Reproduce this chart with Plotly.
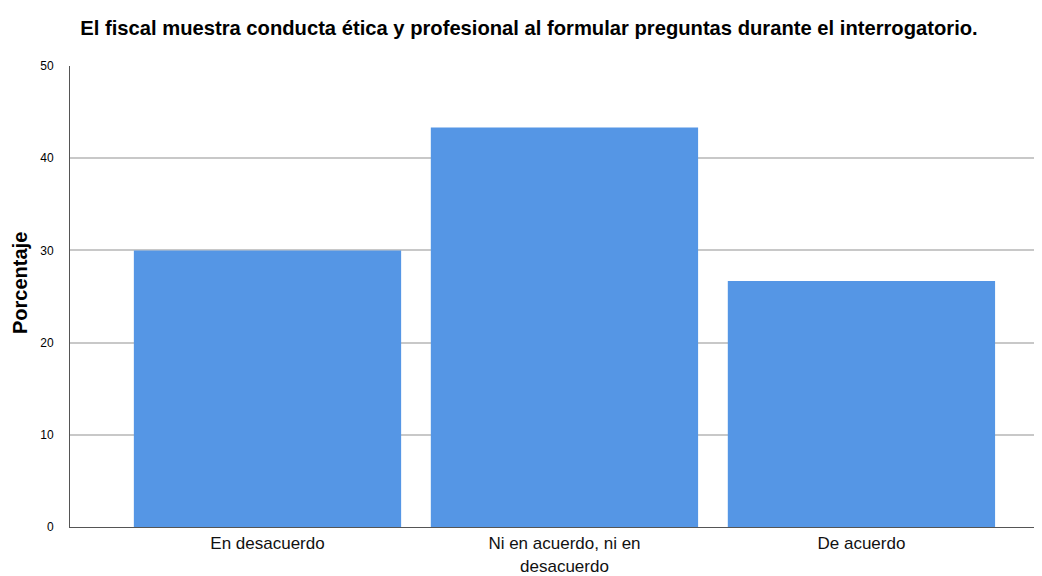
import plotly.graph_objects as go

categories = ["En desacuerdo", "Ni en acuerdo, ni en<br>desacuerdo", "De acuerdo"]
percentages = [30.0, 43.33, 26.67]
y_ticks = [0, 10, 20, 30, 40, 50]
title_text = "El fiscal muestra conducta ética y profesional al formular preguntas durante el interrogatorio."
y_title = "Porcentaje"

# page has an 8px body margin; figure is sized to fill the rest of the window
W, H = 1034, 568

fig = go.Figure()
fig.add_trace(go.Bar(
    x=list(range(len(categories))),
    y=percentages,
    width=0.9,
    marker=dict(color="#5596E5", line=dict(width=0)),
    hoverinfo="y",
))

fig.update_layout(
    width=W, height=H,
    paper_bgcolor="white", plot_bgcolor="white",
    margin=dict(l=62, r=0, t=58, b=49, autoexpand=False),
    font=dict(family="Liberation Sans, Arial, sans-serif", color="black"),
    title=dict(text="<b>" + title_text + "</b>", x=521 / W, xanchor="center",
               y=1 - 20 / H, yanchor="middle", yref="container",
               font=dict(size=20.2, color="black")),
    showlegend=False,
    bargap=0.1,
    annotations=[dict(
        text="<b>" + y_title + "</b>", textangle=-90,
        xref="paper", yref="paper", x=(20 - 70) / 972, y=(527 - 283) / 461,
        xanchor="center", yanchor="middle", showarrow=False,
        font=dict(size=20, color="black"),
    )],
)
fig.update_xaxes(
    range=[-0.665, 2.608], automargin=False,
    tickmode="array", tickvals=list(range(len(categories))), ticktext=categories,
    tickfont=dict(size=17, color="#111111"), ticklabelstandoff=1,
    showgrid=False, showline=True, linecolor="#555555", linewidth=1,
    ticks="", zeroline=False,
)
fig.update_yaxes(
    range=[0, 50], tickmode="array", tickvals=y_ticks, automargin=False,
    tickfont=dict(size=12, color="black"), ticklabelstandoff=13,
    showgrid=True, gridcolor="#C8C8C8", gridwidth=1.5,
    showline=True, linecolor="#555555", linewidth=1,
    ticks="", zeroline=False,
)

fig.write_html("out.html")
